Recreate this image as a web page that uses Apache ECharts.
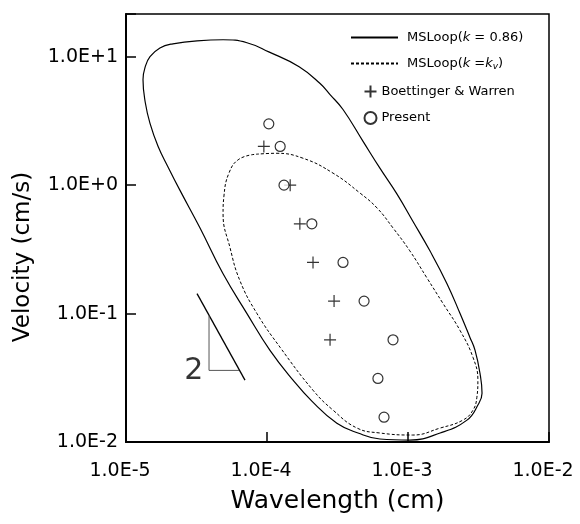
<!DOCTYPE html>
<html>
<head>
<meta charset="utf-8">
<script src="https://cdn.jsdelivr.net/npm/echarts@6/dist/echarts.min.js"></script>
<style>
  html, body { margin: 0; padding: 0; background: #fff; }
  #main { width: 580px; height: 524px; }
</style>
</head>
<body>
<div id="main"></div>
<script>
// outer loop, k = 0.86 (wavelength cm, velocity cm/s)
var outerWavelength = [3.19e-5, 4.88e-5, 7.21e-5, 1.03e-4, 1.69e-4, 2.38e-4, 2.80e-4, 3.46e-4, 4.80e-4, 6.32e-4, 8.36e-4,
	1.08e-3, 1.43e-3, 1.89e-3, 2.34e-3, 2.75e-3, 2.99e-3, 3.24e-3, 3.35e-3, 3.13e-3, 2.62e-3,
	1.69e-3, 1.03e-3, 6.32e-4, 4.42e-4, 3.13e-4, 2.08e-4, 1.53e-4, 1.05e-4, 7.21e-5, 4.88e-5,
	3.35e-5, 2.41e-5, 1.99e-5, 1.69e-5, 1.48e-5, 1.37e-5, 1.32e-5, 1.37e-5, 1.48e-5, 1.74e-5,
	2.15e-5, 3.19e-5];
var outerVelocity = [13.3, 13.55, 12.85, 10.9, 8.36, 6.18, 5.07, 3.88, 2.19, 1.355, 0.851,
	0.526, 0.308, 0.171, 0.100, 0.0652, 0.0517, 0.0343, 0.0240, 0.0194, 0.0148,
	0.01175, 0.01036, 0.01055, 0.01175, 0.0140, 0.0208, 0.0303, 0.0517, 0.100, 0.204,
	0.464, 0.914, 1.38, 2.00, 3.03, 4.40, 6.64, 8.36, 10.0, 11.7,
	12.6, 13.3];

// inner loop, k = kv
var innerWavelength = [8.36e-5, 1.16e-4, 1.80e-4, 2.94e-4, 4.57e-4, 6.03e-4, 7.83e-4, 1.03e-3, 1.36e-3, 1.77e-3,
	2.34e-3, 2.89e-3, 3.13e-3, 3.08e-3, 2.89e-3, 2.45e-3, 1.69e-3, 1.08e-3, 6.32e-4, 4.35e-4,
	2.94e-4, 2.12e-4, 1.24e-4, 8.49e-5, 6.43e-5, 5.47e-5, 4.88e-5, 4.95e-5, 5.37e-5, 6.32e-5,
	8.36e-5];
var innerVelocity = [1.74, 1.77, 1.62, 1.24, 0.867, 0.664, 0.464, 0.308, 0.190, 0.120,
	0.0738, 0.0456, 0.0303, 0.0223, 0.0177, 0.0148, 0.01284, 0.01133, 0.01175, 0.01284,
	0.0177, 0.0253, 0.0545, 0.100, 0.180, 0.325, 0.596, 0.822, 1.24, 1.59,
	1.74];

// Boettinger & Warren
var bwWavelength = [9.5e-5, 1.46e-4, 1.71e-4, 2.12e-4, 2.99e-4, 2.80e-4];
var bwVelocity = [2.0, 1.0, 0.5, 0.25, 0.125, 0.0625];

// Present
var presentWavelength = [1.03e-4, 1.24e-4, 1.32e-4, 2.08e-4, 3.46e-4, 4.88e-4, 7.83e-4, 6.12e-4, 6.76e-4];
var presentVelocity = [3.0, 2.0, 1.0, 0.5, 0.25, 0.125, 0.0625, 0.03125, 0.0156];

// slope -2 guide
var slopeWavelength = [3.19e-5, 6.98e-5];
var slopeVelocity = [0.143, 0.0303];
var triWavelength = [3.88e-5, 3.88e-5, 6.33e-5];
var triVelocity = [0.0964, 0.0361, 0.0361];
var slopeText = { wavelength: 3.03e-5, velocity: 0.0355, text: '2' };

var seriesNames = ['MSLoop(k = 0.86)', 'MSLoop(k = kv)', 'Boettinger & Warren', 'Present'];

function pairs(xs, ys) {
	var out = [];
	for (var i = 0; i < xs.length; i++) out.push([xs[i], ys[i]]);
	return out;
}

function sciLabel(v) {
	var e = Math.round(Math.log10(v));
	if (Math.abs(Math.log10(v) - e) > 1e-6) return '';
	return '1.0E' + (e >= 0 ? '+' + e : e);
}

var FONT = 'DejaVu Sans';
var chart = echarts.init(document.getElementById('main'));

var option = {
	animation: false,
	backgroundColor: '#fff',
	grid: {
		left: 126, right: 31, top: 14, bottom: 82,
		show: true, borderColor: '#000', borderWidth: 1.5, backgroundColor: 'transparent'
	},
	legend: [{
		data: [seriesNames[0], seriesNames[1]],
		orient: 'vertical',
		left: 350, top: 31, padding: 0,
		itemWidth: 47, itemHeight: 14, itemGap: 13,
		itemStyle: { opacity: 0 },
		textStyle: {
			fontFamily: FONT, fontSize: 13, color: '#000', padding: [0, 0, 0, 4],
			rich: {
				i: { fontFamily: FONT, fontSize: 13, fontStyle: 'italic', color: '#000' },
				sub: { fontFamily: FONT, fontSize: 9, fontStyle: 'italic', color: '#000', padding: [6, 0, 0, 0] }
			}
		},
		formatter: function (name) {
			if (name === seriesNames[0]) return 'MSLoop({i|k} = 0.86)';
			return 'MSLoop({i|k} ={i|k}{sub|v})';
		},
		selectedMode: false
	}, {
		data: [seriesNames[2], seriesNames[3]],
		orient: 'vertical',
		left: 362, top: 83, padding: 0,
		itemWidth: 12, itemHeight: 12, itemGap: 11,
		textStyle: { fontFamily: FONT, fontSize: 13, color: '#000' },
		selectedMode: false
	}],
	xAxis: {
		type: 'log', logBase: 10, min: 1e-5, max: 1e-2,
		name: 'Wavelength (cm)', nameLocation: 'middle', nameGap: 47,
		nameTextStyle: { fontFamily: FONT, fontSize: 25, color: '#000' },
		axisLine: { lineStyle: { color: '#000', width: 2 } },
		axisTick: { inside: true, length: 10, lineStyle: { color: '#000', width: 1.5 } },
		axisLabel: {
			formatter: sciLabel, fontFamily: FONT, fontSize: 19, color: '#000', margin: 20,
			padding: [0, 12, 0, 0], showMinLabel: true, showMaxLabel: true
		},
		splitLine: { show: false }
	},
	yAxis: {
		type: 'log', logBase: 10, min: 0.01, max: 21.5,
		axisLine: { lineStyle: { color: '#000', width: 2 } },
		axisTick: { inside: true, length: 10, lineStyle: { color: '#000', width: 1.5 } },
		axisLabel: {
			formatter: sciLabel, fontFamily: FONT, fontSize: 19, color: '#000', margin: 8,
			showMinLabel: true, showMaxLabel: true
		},
		splitLine: { show: false }
	},
	graphic: [{
		type: 'text',
		x: 23, y: 257, rotation: Math.PI / 2,
		style: {
			text: 'Velocity (cm/s)', fontFamily: FONT, fontSize: 23, fill: '#000',
			align: 'center', verticalAlign: 'middle'
		}
	}],
	series: [{
		name: seriesNames[0],
		type: 'line',
		data: pairs(outerWavelength, outerVelocity),
		showSymbol: false, symbol: 'none', smooth: 0.45,
		lineStyle: { color: '#000', width: 1.2 },
		itemStyle: { color: '#000' },
		silent: true
	}, {
		name: seriesNames[1],
		type: 'line',
		data: pairs(innerWavelength, innerVelocity),
		showSymbol: false, symbol: 'none', smooth: 0.45,
		lineStyle: { color: '#000', width: 1, type: [3, 2] },
		itemStyle: { color: '#000' },
		silent: true
	}, {
		name: seriesNames[2],
		type: 'scatter',
		data: pairs(bwWavelength, bwVelocity),
		symbol: 'path://M0,5L10,5M5,0L5,10',
		symbolSize: 12,
		itemStyle: { color: 'none', borderColor: '#000', borderWidth: 1.2 },
		silent: true
	}, {
		name: seriesNames[3],
		type: 'scatter',
		data: pairs(presentWavelength, presentVelocity),
		symbol: 'circle',
		symbolSize: 10,
		itemStyle: { color: '#fff', borderColor: '#000', borderWidth: 1.2 },
		silent: true
	}, {
		name: 'slope',
		type: 'line',
		data: pairs(slopeWavelength, slopeVelocity),
		showSymbol: false, symbol: 'none',
		lineStyle: { color: '#000', width: 1.3 },
		silent: true
	}, {
		name: 'triangle',
		type: 'line',
		data: pairs(triWavelength, triVelocity),
		showSymbol: false, symbol: 'none',
		lineStyle: { color: '#555', width: 1 },
		silent: true
	}, {
		name: 'slopeLabel',
		type: 'scatter',
		data: [[slopeText.wavelength, slopeText.velocity]],
		symbolSize: 0,
		label: {
			show: true, position: 'inside', formatter: slopeText.text,
			fontFamily: FONT, fontSize: 30, color: '#000'
		},
		silent: true
	}]
};

chart.setOption(option);
</script>
</body>
</html>
